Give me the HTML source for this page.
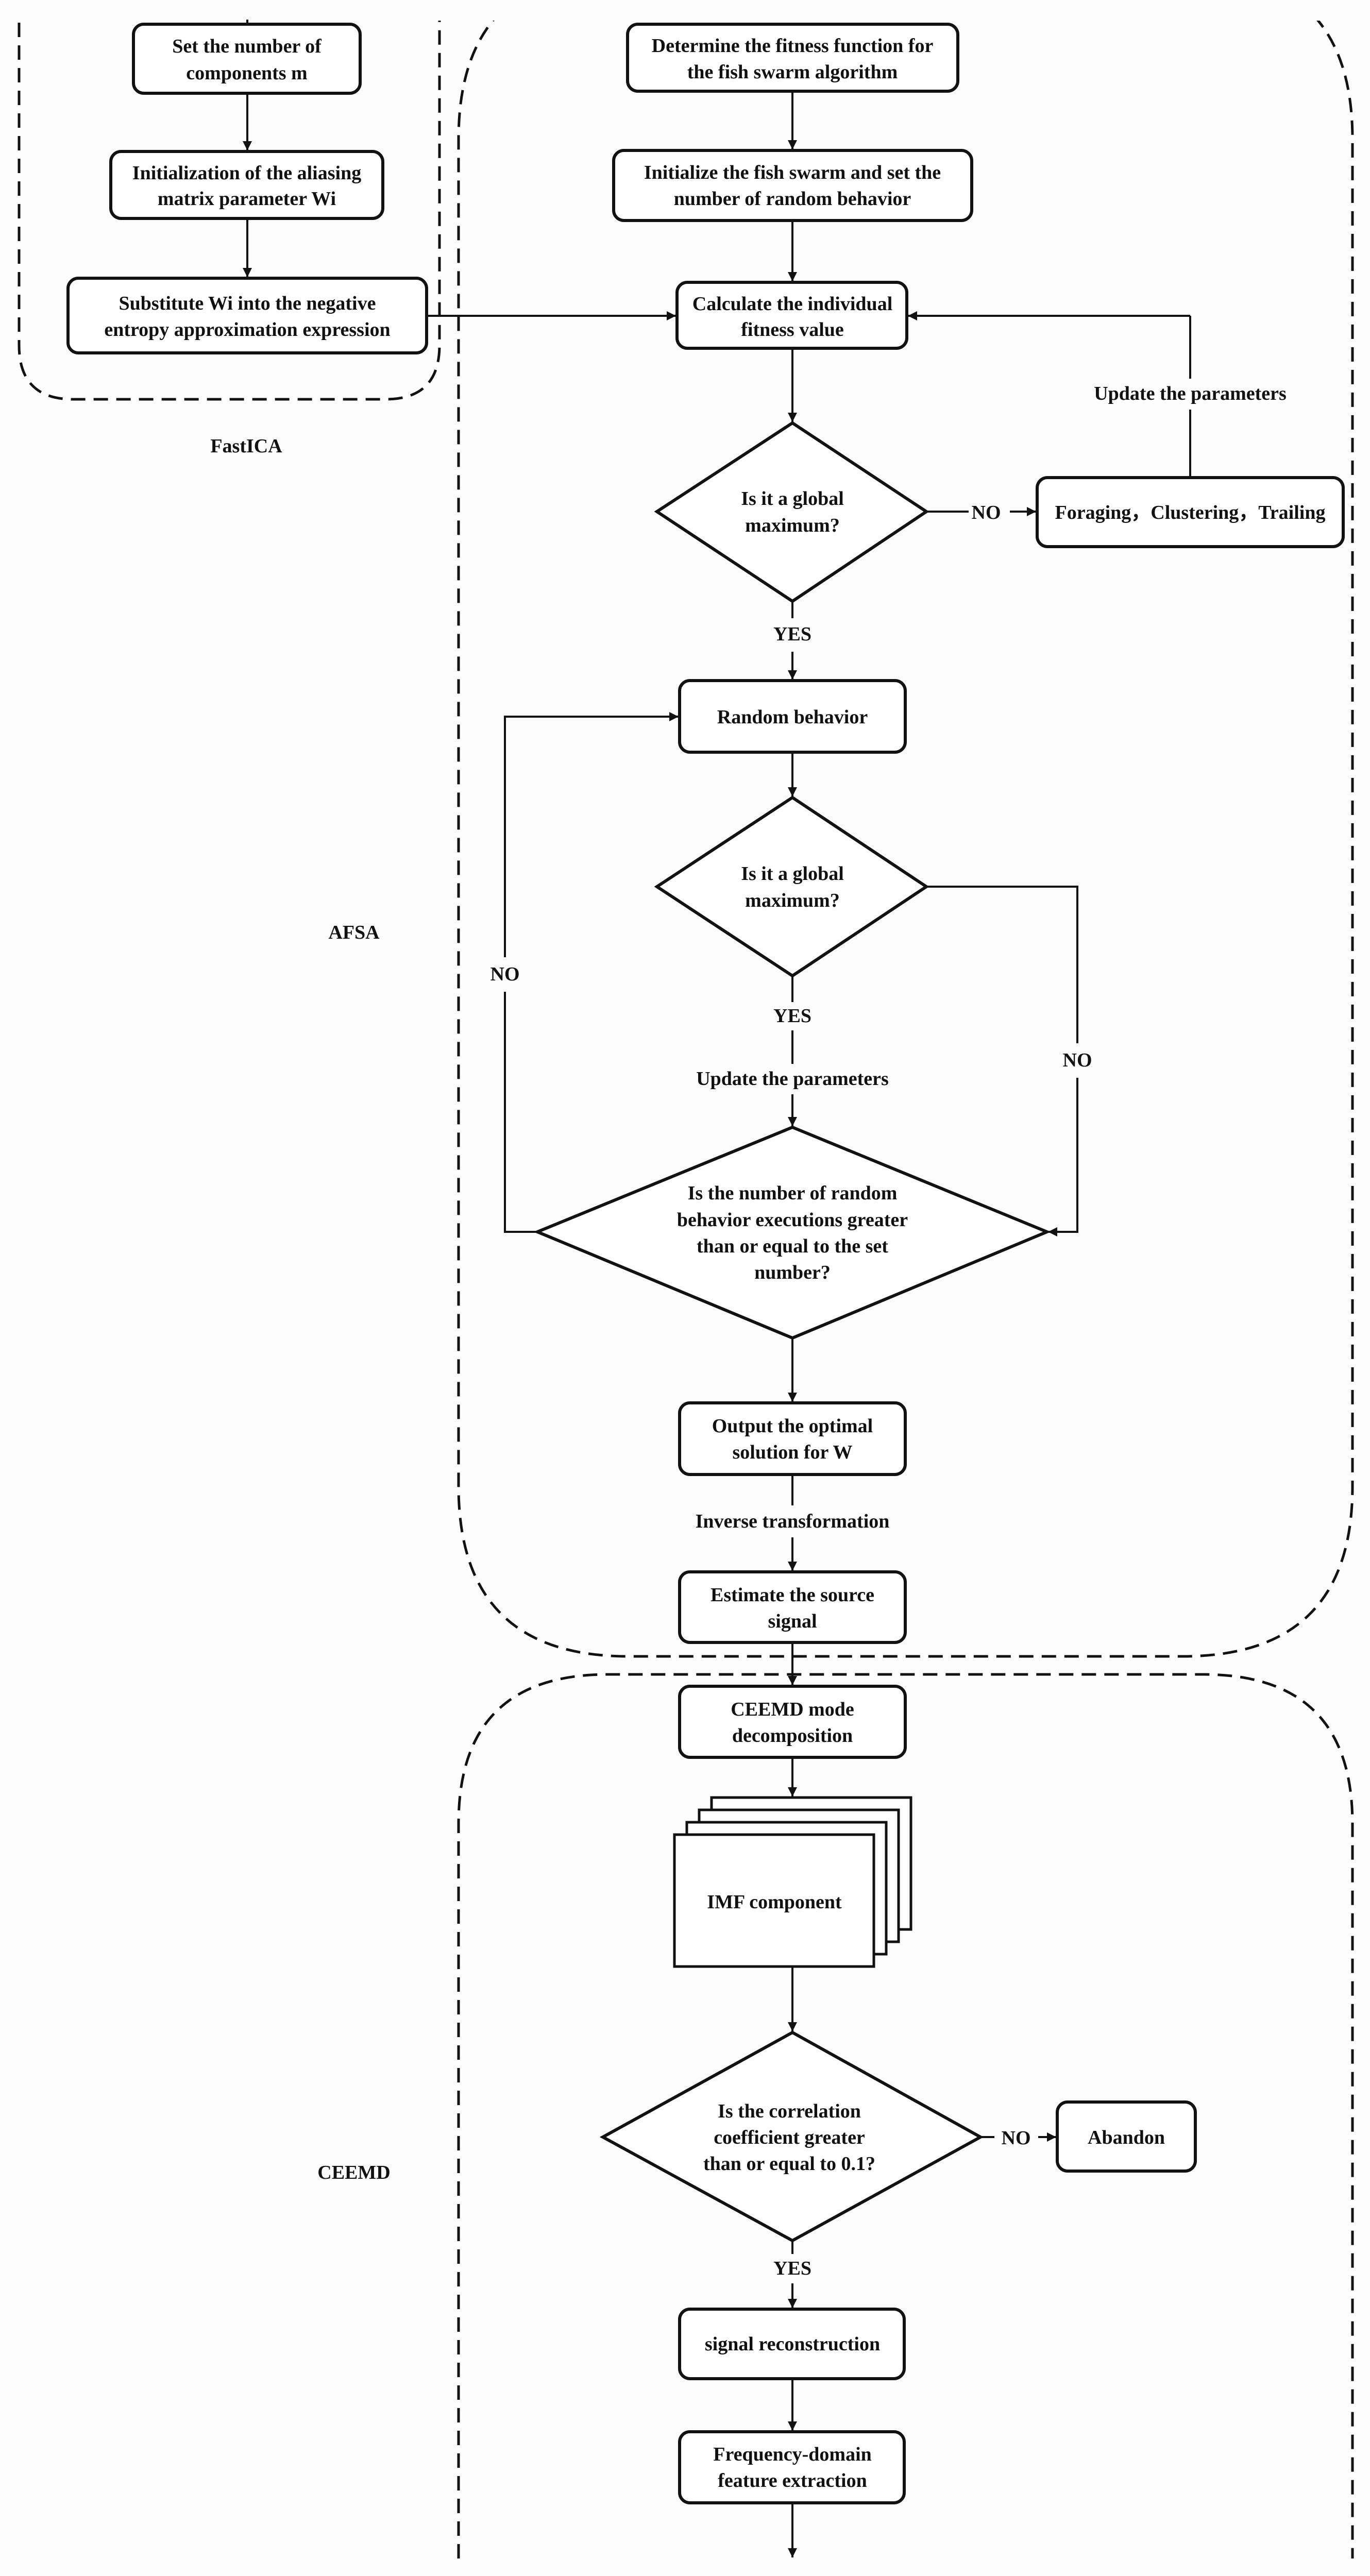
<!DOCTYPE html>
<html><head><meta charset="utf-8"><style>
html,body{margin:0;padding:0;background:#fcfcfc;width:2659px;height:5008px;overflow:hidden;}
svg{display:block;}
text{font-family:"Liberation Serif",serif;font-size:38px;font-weight:bold;fill:#111;text-anchor:middle;dominant-baseline:central;}
.b{fill:#fff;stroke:#111;stroke-width:6;}
.l{fill:none;stroke:#111;stroke-width:4;}
.d{fill:none;stroke:#111;stroke-width:5;stroke-dasharray:28 16;}
</style></head><body>
<svg width="2659" height="5008" viewBox="0 0 2659 5008" xmlns="http://www.w3.org/2000/svg" overflow="hidden">
<defs>
<marker id="m" viewBox="0 0 10 10" markerWidth="18" markerHeight="18" refX="10" refY="5" orient="auto" markerUnits="userSpaceOnUse"><path d="M0,0 L10,5 L0,10 z" fill="#111"/></marker>
<clipPath id="c"><rect x="0" y="40" width="2659" height="4926"/></clipPath></defs>
<rect x="0" y="0" width="2659" height="5008" fill="#fcfcfc"/>
<g clip-path="url(#c)">
<path class="d" d="M37,0 L37,670 Q37,775 142,775 L748,775 Q853,775 853,670 L853,0"/>
<path class="d" d="M890,4966 L890,3540 Q890,3250 1180,3250 L2335,3250 Q2625,3250 2625,3540 L2625,4966"/>
<path class="d" d="M1220,-60 Q890,-60 890,270 L890,2885 Q890,3215 1220,3215 L2295,3215 Q2625,3215 2625,2885 L2625,270 Q2625,-60 2295,-60"/>
</g>
<text x="478" y="866">FastICA</text>
<text x="687" y="1810">AFSA</text>
<text x="687" y="4217">CEEMD</text>

<line class="l" x1="480" y1="38" x2="480" y2="47"/>
<rect class="b" x="259" y="47" width="440" height="134" rx="20"/>
<text x="479" y="90">Set the number of</text><text x="479" y="142">components m</text>
<line class="l" x1="480" y1="181" x2="480" y2="292" marker-end="url(#m)"/>
<rect class="b" x="215" y="294" width="528" height="130" rx="20"/>
<text x="479" y="336">Initialization of the aliasing</text><text x="479" y="386">matrix parameter Wi</text>
<line class="l" x1="480" y1="424" x2="480" y2="538" marker-end="url(#m)"/>
<rect class="b" x="132" y="540" width="696" height="145" rx="20"/>
<text x="480" y="589">Substitute Wi into the negative</text><text x="480" y="640">entropy approximation expression</text>
<line class="l" x1="828" y1="613" x2="1312" y2="613" marker-end="url(#m)"/>

<rect class="b" x="1218" y="47" width="641" height="130" rx="20"/>
<text x="1538" y="89">Determine the fitness function for</text><text x="1538" y="140">the fish swarm algorithm</text>
<line class="l" x1="1538" y1="177" x2="1538" y2="290" marker-end="url(#m)"/>
<rect class="b" x="1191" y="292" width="695" height="136" rx="20"/>
<text x="1538" y="335">Initialize the fish swarm and set the</text><text x="1538" y="386">number of random behavior</text>
<line class="l" x1="1538" y1="428" x2="1538" y2="546" marker-end="url(#m)"/>
<rect class="b" x="1314" y="548" width="446" height="128" rx="20"/>
<text x="1538" y="590">Calculate the individual</text><text x="1538" y="640">fitness value</text>
<line class="l" x1="1538" y1="676" x2="1538" y2="819" marker-end="url(#m)"/>
<polygon class="b" points="1538,821 1798,993 1538,1167 1275,993"/>
<text x="1538" y="968">Is it a global</text><text x="1538" y="1020">maximum?</text>
<line class="l" x1="1798" y1="993" x2="1880" y2="993"/>
<text x="1914" y="995">NO</text>
<line class="l" x1="1960" y1="993" x2="2011" y2="993" marker-end="url(#m)"/>
<rect class="b" x="2013" y="927" width="594" height="134" rx="20"/>
<text x="2310" y="995">Foraging，Clustering，Trailing</text>
<line class="l" x1="2310" y1="927" x2="2310" y2="795"/>
<text x="2310" y="764">Update the parameters</text>
<line class="l" x1="2310" y1="735" x2="2310" y2="613"/>
<line class="l" x1="2310" y1="613" x2="1762" y2="613" marker-end="url(#m)"/>
<line class="l" x1="1538" y1="1167" x2="1538" y2="1200"/>
<text x="1538" y="1231">YES</text>
<line class="l" x1="1538" y1="1265" x2="1538" y2="1319" marker-end="url(#m)"/>
<rect class="b" x="1319" y="1321" width="438" height="139" rx="20"/>
<text x="1538" y="1392">Random behavior</text>
<line class="l" x1="1538" y1="1460" x2="1538" y2="1546" marker-end="url(#m)"/>
<polygon class="b" points="1538,1548 1798,1721 1538,1894 1275,1721"/>
<text x="1538" y="1696">Is it a global</text><text x="1538" y="1748">maximum?</text>
<line class="l" x1="1538" y1="1894" x2="1538" y2="1945"/>
<text x="1538" y="1972">YES</text>
<line class="l" x1="1538" y1="2000" x2="1538" y2="2065"/>
<text x="1538" y="2094">Update the parameters</text>
<line class="l" x1="1538" y1="2124" x2="1538" y2="2186" marker-end="url(#m)"/>
<polygon class="b" points="1538,2188 2032,2391 1538,2597 1043,2391"/>
<text x="1538" y="2316">Is the number of random</text><text x="1538" y="2368">behavior executions greater</text><text x="1538" y="2419">than or equal to the set</text><text x="1538" y="2470">number?</text>
<polyline class="l" points="1798,1721 2091,1721 2091,2025"/>
<text x="2091" y="2058">NO</text>
<polyline class="l" points="2091,2092 2091,2391 2034,2391" marker-end="url(#m)"/>
<polyline class="l" points="1043,2391 980,2391 980,1925"/>
<text x="980" y="1891">NO</text>
<polyline class="l" points="980,1858 980,1391 1317,1391" marker-end="url(#m)"/>
<line class="l" x1="1538" y1="2597" x2="1538" y2="2721" marker-end="url(#m)"/>
<rect class="b" x="1319" y="2723" width="438" height="139" rx="20"/>
<text x="1538" y="2768">Output the optimal</text><text x="1538" y="2819">solution for W</text>
<line class="l" x1="1538" y1="2862" x2="1538" y2="2922"/>
<text x="1538" y="2953">Inverse transformation</text>
<line class="l" x1="1538" y1="2984" x2="1538" y2="3049" marker-end="url(#m)"/>
<rect class="b" x="1319" y="3051" width="438" height="137" rx="20"/>
<text x="1538" y="3096">Estimate the source</text><text x="1538" y="3147">signal</text>
<line class="l" x1="1538" y1="3188" x2="1538" y2="3271" marker-end="url(#m)"/>

<rect class="b" x="1319" y="3273" width="438" height="138" rx="20"/>
<text x="1538" y="3318">CEEMD mode</text><text x="1538" y="3369">decomposition</text>
<line class="l" x1="1538" y1="3411" x2="1538" y2="3487" marker-end="url(#m)"/>
<rect x="1381" y="3489" width="387" height="256" fill="#fff" stroke="#111" stroke-width="5"/>
<rect x="1357" y="3513" width="387" height="256" fill="#fff" stroke="#111" stroke-width="5"/>
<rect x="1333" y="3537" width="387" height="256" fill="#fff" stroke="#111" stroke-width="5"/>
<rect x="1309" y="3561" width="387" height="256" fill="#fff" stroke="#111" stroke-width="5"/>
<text x="1503" y="3692">IMF component</text>
<line class="l" x1="1538" y1="3817" x2="1538" y2="3943" marker-end="url(#m)"/>
<polygon class="b" points="1538,3945 1903,4148 1538,4349 1170,4148"/>
<text x="1532" y="4098">Is the correlation</text><text x="1532" y="4149">coefficient greater</text><text x="1532" y="4200">than or equal to 0.1?</text>
<line class="l" x1="1903" y1="4148" x2="1930" y2="4148"/>
<text x="1972" y="4150">NO</text>
<line class="l" x1="2015" y1="4148" x2="2050" y2="4148" marker-end="url(#m)"/>
<rect class="b" x="2052" y="4080" width="268" height="134" rx="20"/>
<text x="2186" y="4149">Abandon</text>
<line class="l" x1="1538" y1="4349" x2="1538" y2="4375"/>
<text x="1538" y="4403">YES</text>
<line class="l" x1="1538" y1="4432" x2="1538" y2="4480" marker-end="url(#m)"/>
<rect class="b" x="1319" y="4482" width="436" height="135" rx="20"/>
<text x="1538" y="4550">signal reconstruction</text>
<line class="l" x1="1538" y1="4617" x2="1538" y2="4718" marker-end="url(#m)"/>
<rect class="b" x="1319" y="4720" width="436" height="138" rx="20"/>
<text x="1538" y="4764">Frequency-domain</text><text x="1538" y="4815">feature extraction</text>
<line class="l" x1="1538" y1="4858" x2="1538" y2="4964" marker-end="url(#m)"/>
</svg>
</body></html>
